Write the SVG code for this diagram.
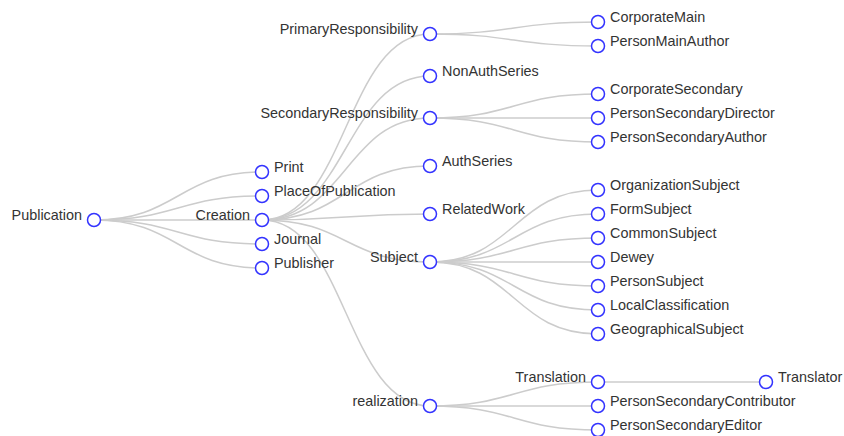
<svg xmlns="http://www.w3.org/2000/svg" width="844" height="436" viewBox="0 0 844 436">
<style>
.link{fill:none;stroke:#ccc;stroke-width:1.5}
.node circle{fill:#fff;stroke:#3333ff;stroke-width:1.5}
.node text{font-family:"Liberation Sans",Arial,sans-serif;font-size:14.4px;fill:#333}
.l text{text-anchor:end}
</style>
<rect width="844" height="436" fill="#fff"/>
<g id="links">
<path class="link" d="M94,220C178,220 178,172 262,172"/>
<path class="link" d="M94,220C178,220 178,196 262,196"/>
<path class="link" d="M94,220C178,220 178,220 262,220"/>
<path class="link" d="M94,220C178,220 178,244 262,244"/>
<path class="link" d="M94,220C178,220 178,268 262,268"/>
<path class="link" d="M262,220C346,220 346,34 430,34"/>
<path class="link" d="M262,220C346,220 346,76 430,76"/>
<path class="link" d="M262,220C346,220 346,118 430,118"/>
<path class="link" d="M262,220C346,220 346,166 430,166"/>
<path class="link" d="M262,220C346,220 346,214 430,214"/>
<path class="link" d="M262,220C346,220 346,262 430,262"/>
<path class="link" d="M262,220C346,220 346,406 430,406"/>
<path class="link" d="M430,34C514,34 514,22 598,22"/>
<path class="link" d="M430,34C514,34 514,46 598,46"/>
<path class="link" d="M430,118C514,118 514,94 598,94"/>
<path class="link" d="M430,118C514,118 514,118 598,118"/>
<path class="link" d="M430,118C514,118 514,142 598,142"/>
<path class="link" d="M430,262C514,262 514,190 598,190"/>
<path class="link" d="M430,262C514,262 514,214 598,214"/>
<path class="link" d="M430,262C514,262 514,238 598,238"/>
<path class="link" d="M430,262C514,262 514,262 598,262"/>
<path class="link" d="M430,262C514,262 514,286 598,286"/>
<path class="link" d="M430,262C514,262 514,310 598,310"/>
<path class="link" d="M430,262C514,262 514,334 598,334"/>
<path class="link" d="M430,406C514,406 514,382 598,382"/>
<path class="link" d="M430,406C514,406 514,406 598,406"/>
<path class="link" d="M430,406C514,406 514,430 598,430"/>
<path class="link" d="M598,382C682,382 682,382 766,382"/>
</g>
<g id="n-publication" class="node l"><circle cx="94" cy="220" r="6.5"/><text x="82" y="219.5">Publication</text></g>
<g id="n-print" class="node"><circle cx="262" cy="172" r="6.5"/><text x="274" y="171.5">Print</text></g>
<g id="n-placeofpublication" class="node"><circle cx="262" cy="196" r="6.5"/><text x="274" y="195.5">PlaceOfPublication</text></g>
<g id="n-creation" class="node l"><circle cx="262" cy="220" r="6.5"/><text x="250" y="219.5">Creation</text></g>
<g id="n-journal" class="node"><circle cx="262" cy="244" r="6.5"/><text x="274" y="243.5">Journal</text></g>
<g id="n-publisher" class="node"><circle cx="262" cy="268" r="6.5"/><text x="274" y="267.5">Publisher</text></g>
<g id="n-primaryresponsibility" class="node l"><circle cx="430" cy="34" r="6.5"/><text x="418" y="33.5">PrimaryResponsibility</text></g>
<g id="n-nonauthseries" class="node"><circle cx="430" cy="76" r="6.5"/><text x="442" y="75.5">NonAuthSeries</text></g>
<g id="n-secondaryresponsibility" class="node l"><circle cx="430" cy="118" r="6.5"/><text x="418" y="117.5">SecondaryResponsibility</text></g>
<g id="n-authseries" class="node"><circle cx="430" cy="166" r="6.5"/><text x="442" y="165.5">AuthSeries</text></g>
<g id="n-relatedwork" class="node"><circle cx="430" cy="214" r="6.5"/><text x="442" y="213.5">RelatedWork</text></g>
<g id="n-subject" class="node l"><circle cx="430" cy="262" r="6.5"/><text x="418" y="261.5">Subject</text></g>
<g id="n-realization" class="node l"><circle cx="430" cy="406" r="6.5"/><text x="418" y="405.5">realization</text></g>
<g id="n-corporatemain" class="node"><circle cx="598" cy="22" r="6.5"/><text x="610" y="21.5">CorporateMain</text></g>
<g id="n-personmainauthor" class="node"><circle cx="598" cy="46" r="6.5"/><text x="610" y="45.5">PersonMainAuthor</text></g>
<g id="n-corporatesecondary" class="node"><circle cx="598" cy="94" r="6.5"/><text x="610" y="93.5">CorporateSecondary</text></g>
<g id="n-personsecondarydirector" class="node"><circle cx="598" cy="118" r="6.5"/><text x="610" y="117.5">PersonSecondaryDirector</text></g>
<g id="n-personsecondaryauthor" class="node"><circle cx="598" cy="142" r="6.5"/><text x="610" y="141.5">PersonSecondaryAuthor</text></g>
<g id="n-organizationsubject" class="node"><circle cx="598" cy="190" r="6.5"/><text x="610" y="189.5">OrganizationSubject</text></g>
<g id="n-formsubject" class="node"><circle cx="598" cy="214" r="6.5"/><text x="610" y="213.5">FormSubject</text></g>
<g id="n-commonsubject" class="node"><circle cx="598" cy="238" r="6.5"/><text x="610" y="237.5">CommonSubject</text></g>
<g id="n-dewey" class="node"><circle cx="598" cy="262" r="6.5"/><text x="610" y="261.5">Dewey</text></g>
<g id="n-personsubject" class="node"><circle cx="598" cy="286" r="6.5"/><text x="610" y="285.5">PersonSubject</text></g>
<g id="n-localclassification" class="node"><circle cx="598" cy="310" r="6.5"/><text x="610" y="309.5">LocalClassification</text></g>
<g id="n-geographicalsubject" class="node"><circle cx="598" cy="334" r="6.5"/><text x="610" y="333.5">GeographicalSubject</text></g>
<g id="n-translation" class="node l"><circle cx="598" cy="382" r="6.5"/><text x="586" y="381.5">Translation</text></g>
<g id="n-personsecondarycontributor" class="node"><circle cx="598" cy="406" r="6.5"/><text x="610" y="405.5">PersonSecondaryContributor</text></g>
<g id="n-personsecondaryeditor" class="node"><circle cx="598" cy="430" r="6.5"/><text x="610" y="429.5">PersonSecondaryEditor</text></g>
<g id="n-translator" class="node"><circle cx="766" cy="382" r="6.5"/><text x="778" y="381.5">Translator</text></g>
</svg>
